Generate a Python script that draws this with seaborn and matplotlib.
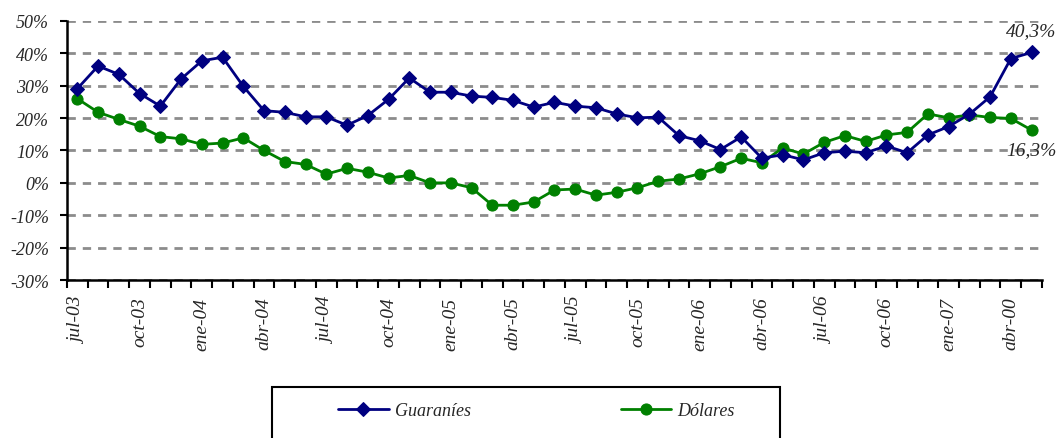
import numpy as np
import pandas as pd
import seaborn as sns
import matplotlib.pyplot as plt
from matplotlib.patches import Rectangle

# Datos: tasa de variacion interanual (%) por mes, jul-03 a may-07
meses = ["jul-03", "ago-03", "sep-03", "oct-03", "nov-03", "dic-03",
         "ene-04", "feb-04", "mar-04", "abr-04", "may-04", "jun-04",
         "jul-04", "ago-04", "sep-04", "oct-04", "nov-04", "dic-04",
         "ene-05", "feb-05", "mar-05", "abr-05", "may-05", "jun-05",
         "jul-05", "ago-05", "sep-05", "oct-05", "nov-05", "dic-05",
         "ene-06", "feb-06", "mar-06", "abr-06", "may-06", "jun-06",
         "jul-06", "ago-06", "sep-06", "oct-06", "nov-06", "dic-06",
         "ene-07", "feb-07", "mar-07", "abr-07", "may-07"]

guaranies = [29.1, 36.1, 33.5, 27.6, 23.7, 32.1, 37.7, 38.8, 29.8, 22.3,
             21.8, 20.4, 20.4, 17.8, 20.8, 25.8, 32.4, 28.0, 28.0, 26.8,
             26.4, 25.5, 23.4, 24.9, 23.7, 23.2, 21.3, 20.1, 20.3, 14.6,
             13.0, 10.3, 14.2, 7.6, 8.7, 7.1, 9.3, 9.8, 9.3, 11.4,
             9.3, 14.8, 17.4, 21.2, 26.6, 38.4, 40.3]

dolares = [26.0, 21.8, 19.6, 17.5, 14.3, 13.6, 11.9, 12.3, 13.9, 10.0,
           6.6, 5.7, 2.7, 4.5, 3.3, 1.5, 2.3, 0.0, 0.0, -1.5,
           -6.9, -6.9, -5.9, -2.2, -1.9, -3.8, -2.9, -1.5, 0.5, 1.2,
           2.8, 5.0, 7.6, 6.2, 10.8, 8.9, 12.5, 14.6, 12.8, 14.8,
           15.6, 21.3, 20.1, 21.0, 20.2, 19.9, 16.3]

# etiquetas del eje x (cada 3 meses, tal como aparecen en el original)
etiquetas = ["jul-03", "oct-03", "ene-04", "abr-04", "jul-04", "oct-04",
             "ene-05", "abr-05", "jul-05", "oct-05", "ene-06", "abr-06",
             "jul-06", "oct-06", "ene-07", "abr-00"]

sns.set_style("white")
plt.rcParams["font.family"] = ["Liberation Serif", "DejaVu Serif"]
plt.rcParams["font.style"] = "italic"

df = pd.DataFrame({"pos": np.arange(len(meses)), "mes": meses,
                   "Guaraníes": guaranies, "Dólares": dolares})

fig = plt.figure(figsize=(10.6, 4.39), dpi=100)
ax = fig.add_axes([0.0632, 0.3599, 0.9198, 0.59])

sns.lineplot(data=df, x="pos", y="Guaraníes", ax=ax, color="#000080",
             marker="D", markersize=7, markeredgecolor="#000080",
             linewidth=2, label="Guaraníes", legend=False, zorder=4)
sns.lineplot(data=df, x="pos", y="Dólares", ax=ax, color="#008000",
             marker="o", markersize=8, markeredgecolor="#008000",
             linewidth=2, label="Dólares", legend=False, zorder=3)

# ejes
ax.set_xlim(-0.5, len(meses) - 0.5)
ax.set_ylim(-30, 50)
ax.set_xlabel("")
ax.set_ylabel("")

yt = np.arange(-30, 51, 10)
ax.set_yticks(yt)
ax.set_yticklabels([f"{v}%" for v in yt], fontsize=13, style="italic")
ax.yaxis.grid(True, color="#8c8c8c", linestyle=(0, (3, 2.5)), linewidth=2)
ax.xaxis.grid(False)

ax.set_xticks(np.arange(-0.5, len(meses), 1))
ax.set_xticklabels([])
ax.set_xticks(np.arange(0, len(meses), 3), minor=True)
ax.set_xticklabels(etiquetas, minor=True, rotation=90, fontsize=14,
                   style="italic", va="top", ha="center")
ax.tick_params(axis="x", which="major", direction="out", length=6,
               width=1.5, color="black", bottom=True)
ax.tick_params(axis="x", which="minor", length=0, pad=12)
ax.tick_params(axis="y", direction="out", length=5, width=1.5,
               color="black", left=True, pad=8)

for lado in ["top", "right"]:
    ax.spines[lado].set_visible(False)
for lado in ["left", "bottom"]:
    ax.spines[lado].set_color("black")
    ax.spines[lado].set_linewidth(1.8)
    ax.spines[lado].set_zorder(5)

# valores finales
ax.annotate("40,3%", xy=(len(meses) - 1, guaranies[-1]), xytext=(0, 16),
            textcoords="offset points", ha="center", va="center",
            fontsize=14, style="italic", annotation_clip=False)
ax.annotate("16,3%", xy=(len(meses) - 1, dolares[-1]), xytext=(0, -14),
            textcoords="offset points", ha="center", va="center",
            fontsize=14, style="italic", annotation_clip=False)

# leyenda: marco recortado por el borde inferior, como en el original
fig.patches.append(Rectangle((272 / 1060, -0.2), 508 / 1060, 0.2 + 51 / 439,
                             transform=fig.transFigure, fill=False,
                             edgecolor="black", linewidth=1.5))
h, l = ax.get_legend_handles_labels()
leg = fig.legend(h, l, loc="center left", ncol=2,
                 bbox_to_anchor=(338 / 1060, 1 - 412 / 439),
                 fontsize=13, frameon=False, handlelength=2.8,
                 handletextpad=0.35, columnspacing=8.3, borderpad=0,
                 borderaxespad=0)
for t in leg.get_texts():
    t.set_fontstyle("italic")

plt.savefig("out.png", dpi=100)
